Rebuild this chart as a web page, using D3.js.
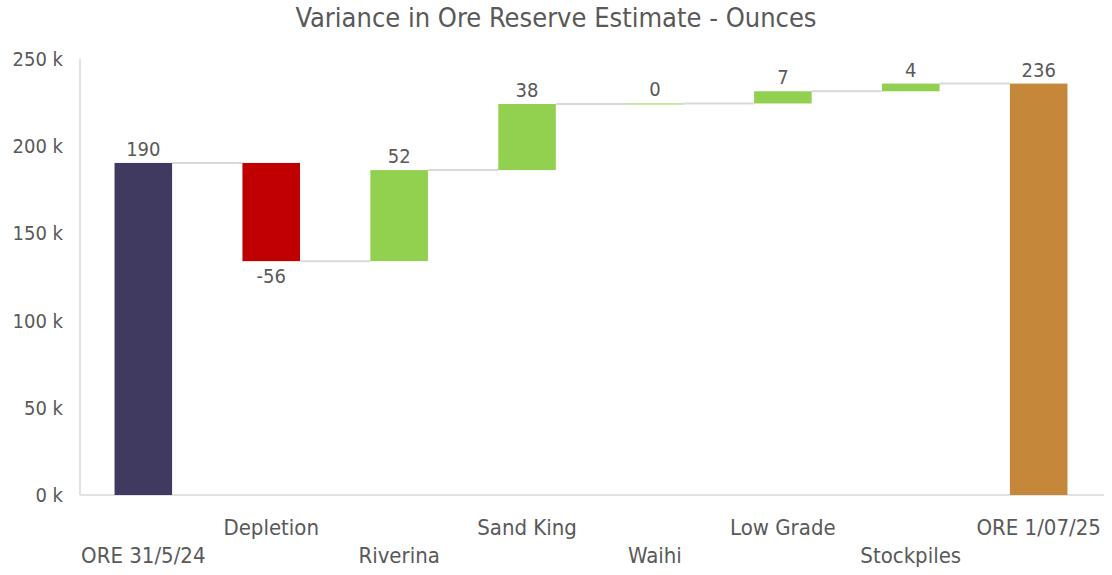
<!DOCTYPE html>
<html>
<head>
<meta charset="utf-8">
<script src="https://cdn.jsdelivr.net/npm/d3@7"></script>
<style>
  body { margin: 0; background: #fff; }
  text { font-family: "Liberation Sans Narrow", "DejaVu Sans Condensed", "Roboto", sans-serif; fill: #595959; }
</style>
</head>
<body>
<svg id="chart"></svg>
<script>
// waterfall data (thousand ounces)
const categories = ['ORE 31/5/24', 'Depletion', 'Riverina', 'Sand King', 'Waihi', 'Low Grade', 'Stockpiles', 'ORE 1/07/25'];
const changes = [190.4, -56.3, 52.2, 37.9, 0.3, 7.0, 4.4, null]; // null = total bar
const yTicks = [0, 50, 100, 150, 200, 250];

const colors = { total: '#403a60', end: '#c5883a', up: '#92d050', down: '#c00000' };

const width = 1112, height = 575;
const margin = { top: 59, right: 10, bottom: 80, left: 80 };

// build running totals
let running = 0;
const bars = categories.map((c, i) => {
  let d;
  if (i === 0) {
    d = { cat: c, y0: 0, y1: changes[i], value: changes[i], type: 'total' };
  } else if (changes[i] === null) {
    d = { cat: c, y0: 0, y1: running, value: running, type: 'end' };
  } else {
    d = { cat: c, y0: running, y1: running + changes[i], value: changes[i], type: changes[i] < 0 ? 'down' : 'up' };
  }
  running = d.y1;
  d.index = i;
  return d;
});

const svg = d3.select('#chart').attr('width', width).attr('height', height);

const x = d3.scaleBand()
  .domain(categories)
  .range([margin.left, width - margin.right])
  .paddingInner(0.55)
  .paddingOuter(0.27);

const y = d3.scaleLinear()
  .domain([0, 250])
  .range([height - margin.bottom, margin.top]);

// title
svg.append('text')
  .attr('x', width / 2)
  .attr('y', 27)
  .attr('text-anchor', 'middle')
  .attr('font-size', '27px')
  .text('Variance in Ore Reserve Estimate - Ounces');

// axis lines
svg.append('line')
  .attr('x1', margin.left).attr('x2', margin.left)
  .attr('y1', y(250)).attr('y2', y(0))
  .attr('stroke', '#d9d9d9').attr('stroke-width', 1.5);
svg.append('line')
  .attr('x1', margin.left).attr('x2', width - 8)
  .attr('y1', y(0)).attr('y2', y(0))
  .attr('stroke', '#d9d9d9').attr('stroke-width', 1.5);

// y tick labels
const yAxis = d3.axisLeft(y).tickValues(yTicks).tickSize(0).tickPadding(17).tickFormat(d => d + ' k');
svg.append('g')
  .attr('transform', `translate(${margin.left},0)`)
  .call(yAxis)
  .call(g => g.select('.domain').remove())
  .selectAll('text')
  .attr('font-size', '20px')
  .attr('font-family', null)
  .attr('fill', '#595959');

// connectors
svg.selectAll('.conn')
  .data(bars.slice(0, -1))
  .enter()
  .append('line')
  .attr('class', 'conn')
  .attr('x1', d => x(d.cat) + x.bandwidth())
  .attr('x2', d => x(categories[d.index + 1]))
  .attr('y1', d => y(d.y1))
  .attr('y2', d => y(d.y1))
  .attr('stroke', '#d9d9d9')
  .attr('stroke-width', 2);

// bars
svg.selectAll('.bar')
  .data(bars)
  .enter()
  .append('rect')
  .attr('class', 'bar')
  .attr('x', d => x(d.cat))
  .attr('width', x.bandwidth())
  .attr('y', d => y(Math.max(d.y0, d.y1)))
  .attr('height', d => Math.max(1, Math.abs(y(d.y0) - y(d.y1))))
  .style('fill', d => colors[d.type]);

// value labels (plain hyphen for negatives)
const fmt = v => d3.format('.0f')(v).replace('\u2212', '-');
svg.selectAll('.val')
  .data(bars)
  .enter()
  .append('text')
  .attr('class', 'val')
  .attr('x', d => x(d.cat) + x.bandwidth() / 2)
  .attr('y', d => d.value < 0 ? y(d.y1) + 22 : y(Math.max(d.y0, d.y1)) - 7)
  .attr('text-anchor', 'middle')
  .attr('font-size', '20px')
  .text(d => fmt(d.value));

// category labels, staggered
svg.selectAll('.cat')
  .data(bars)
  .enter()
  .append('text')
  .attr('class', 'cat')
  .attr('x', d => x(d.cat) + x.bandwidth() / 2)
  .attr('y', d => d.index % 2 === 0 ? 563 : 535)
  .attr('text-anchor', 'middle')
  .attr('font-size', '22px')
  .text(d => d.cat);
</script>
</body>
</html>
